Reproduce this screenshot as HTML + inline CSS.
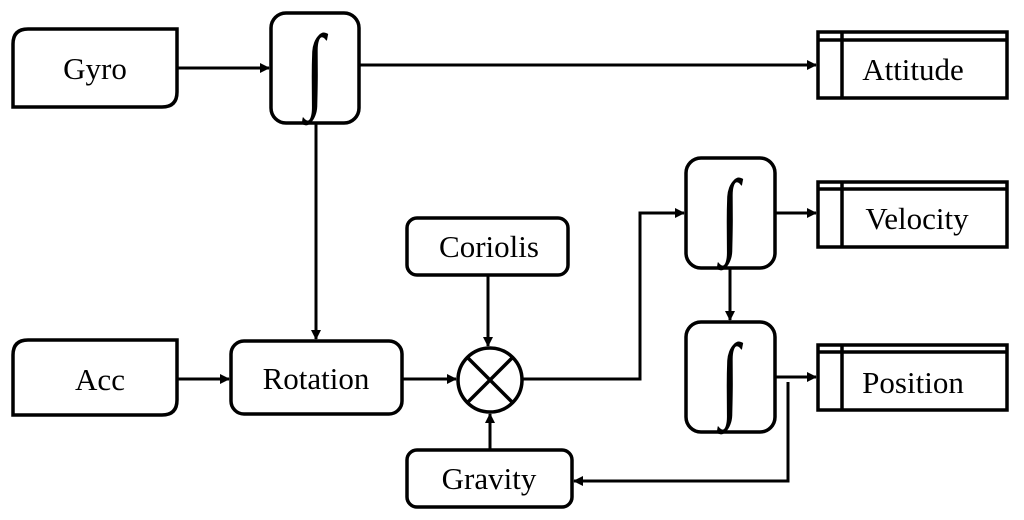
<!DOCTYPE html>
<html><head><style>html,body{margin:0;padding:0;background:#fff}svg{display:block}</style></head><body>
<svg width="1024" height="520" viewBox="0 0 1024 520" xmlns="http://www.w3.org/2000/svg" font-family="Liberation Serif, serif">
<defs><marker id="a" markerWidth="10" markerHeight="10" refX="9" refY="5" orient="auto" markerUnits="userSpaceOnUse"><path d="M0,0 L10,5 L0,10 z" fill="#000"/></marker></defs>
<g fill="none" stroke="#000" stroke-width="3.5">
<!-- Gyro / Acc -->
<path d="M13,44 Q13,29 28,29 L177,29 L177,92 Q177,107 162,107 L13,107 Z"/>
<path d="M13,355 Q13,340 28,340 L177,340 L177,400 Q177,415 162,415 L13,415 Z"/>
<rect x="271" y="13" width="88" height="110" rx="15"/>
<rect x="686" y="158" width="89" height="110" rx="15"/>
<rect x="686" y="322" width="89" height="110" rx="15"/>
<rect x="231" y="341" width="171" height="73" rx="13"/>
<rect x="407" y="218" width="161" height="57" rx="10"/>
<rect x="407" y="450" width="165" height="57" rx="10"/>
<circle cx="490" cy="380" r="32"/>
<path d="M467,357 L513,403 M513,357 L467,403"/>
<!-- output boxes -->
<rect x="818" y="32" width="189" height="66"/><path d="M818,40 H1007 M842,32 V98"/>
<rect x="818" y="182" width="189" height="65"/><path d="M818,189 H1007 M842,182 V247"/>
<rect x="818" y="345" width="189" height="65"/><path d="M818,352 H1007 M842,345 V410"/>
</g>
<g fill="none" stroke="#000" stroke-width="3">
<path d="M177,68 H269" marker-end="url(#a)"/>
<path d="M359,65 H816" marker-end="url(#a)"/>
<path d="M316,123 V339" marker-end="url(#a)"/>
<path d="M177,379 H229" marker-end="url(#a)"/>
<path d="M402,379 H456" marker-end="url(#a)"/>
<path d="M488,275 V346" marker-end="url(#a)"/>
<path d="M490,450 V414" marker-end="url(#a)"/>
<path d="M522,379 H640 V213 H684" marker-end="url(#a)"/>
<path d="M775,213 H816" marker-end="url(#a)"/>
<path d="M730,268 V320" marker-end="url(#a)"/>
<path d="M775,377 H816" marker-end="url(#a)"/>
<path d="M788,382 V481 H574" marker-end="url(#a)"/>
</g>
<g font-size="31" fill="#000" text-anchor="middle">
<text x="95" y="79">Gyro</text>
<text x="100" y="390">Acc</text>
<text x="316" y="389">Rotation</text>
<text x="489" y="257">Coriolis</text>
<text x="489" y="489">Gravity</text>
<text x="913" y="80" text-anchor="middle">Attitude</text>
<text x="917" y="229">Velocity</text>
<text x="913" y="393">Position</text>
</g>
<g font-size="70" fill="#000" text-anchor="middle">
<text x="315" y="68" transform="translate(315,68) scale(1,1.35) translate(-315,-68)" dominant-baseline="central">∫</text>
<text x="730" y="213" transform="translate(730,213) scale(1,1.35) translate(-730,-213)" dominant-baseline="central">∫</text>
<text x="730" y="377" transform="translate(730,377) scale(1,1.35) translate(-730,-377)" dominant-baseline="central">∫</text>
</g>
</svg>
</body></html>
